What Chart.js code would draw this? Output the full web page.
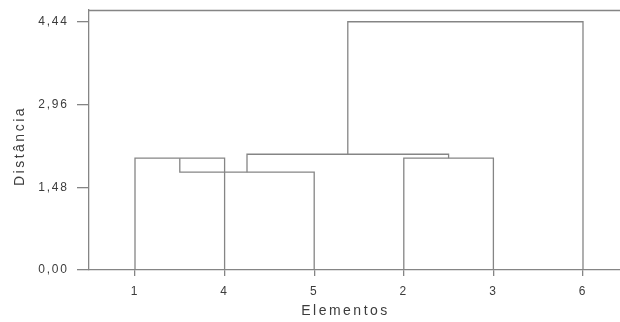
<!DOCTYPE html>
<html><head><meta charset="utf-8">
<script src="https://cdn.jsdelivr.net/npm/chart.js@4/dist/chart.umd.min.js"></script>
<style>html,body{margin:0;padding:0;background:#fff}canvas{display:block}</style>
</head><body>
<canvas id="c" width="620" height="322"></canvas>
<script>
// Leaves in dendrogram display order
const leafLabels = ['1', '4', '5', '2', '3', '6'];
// Merges: cluster ids 0-5 are the leaves (display order), 6+ are clusters formed in merge order
const mergeLeft   = [0, 6, 3, 7, 9];
const mergeRight  = [1, 2, 4, 8, 5];
const mergeHeight = [2.00, 1.75, 2.00, 2.07, 4.44];
const yTicks = [0, 1.48, 2.96, 4.44];
const xTitle = 'Elementos';
const yTitle = 'Distância';

const lineColor = '#858585';
const textColor = '#3c3c3c';
const fontFamily = "'Liberation Sans', Arial, sans-serif";

const pos = leafLabels.map((_, i) => i);
const hgt = leafLabels.map(() => 0);
const datasets = [];
mergeLeft.forEach((l, k) => {
  const r = mergeRight[k], h = mergeHeight[k];
  datasets.push({
    data: [{x: pos[l], y: hgt[l]}, {x: pos[l], y: h}, {x: pos[r], y: h}, {x: pos[r], y: hgt[r]}],
    showLine: true, borderColor: lineColor, borderWidth: 1.3, pointRadius: 0,
    pointHoverRadius: 0, tension: 0, fill: false
  });
  pos.push((pos[l] + pos[r]) / 2);
  hgt.push(h);
});

const TICK_LS = '1.8px', TITLE_LS = '2.5px';
const titleShift = { x: [-9, 0], y: [0, 6] };
const frame = {
  id: 'frame',
  beforeDraw(chart) {
    chart.ctx.letterSpacing = TICK_LS;
    Object.values(chart.scales).forEach(s => {
      if (!s._wrappedTitle) {
        const orig = s.drawTitle;
        const sh = titleShift[s.id] || [0, 0];
        s.drawTitle = function () {
          const ctx = this.ctx;
          ctx.save();
          ctx.translate(sh[0], sh[1]);
          ctx.letterSpacing = TITLE_LS;
          orig.apply(this, arguments);
          ctx.restore();
          ctx.letterSpacing = TICK_LS;
        };
        s._wrappedTitle = true;
      }
    });
  },
  afterDraw(chart) {
    const {ctx, chartArea} = chart;
    ctx.save();
    ctx.strokeStyle = lineColor;
    ctx.lineWidth = 1.3;
    const y = Math.round(chartArea.top) + 0.5;
    ctx.beginPath();
    ctx.moveTo(chartArea.left, y);
    ctx.lineTo(chartArea.right, y);
    ctx.stroke();
    ctx.restore();
  }
};

new Chart(document.getElementById('c'), {
  type: 'scatter',
  data: { datasets },
  plugins: [frame],
  options: {
    responsive: false,
    animation: false,
    devicePixelRatio: 1,
    layout: { padding: { top: 10, right: 0, bottom: 0, left: 0 } },
    plugins: { legend: { display: false }, tooltip: { enabled: false } },
    scales: {
      x: {
        type: 'linear', position: 'bottom',
        min: -0.5134, max: 5.413,
        afterBuildTicks: s => { s.ticks = leafLabels.map((_, i) => ({ value: i })); },
        afterFit: s => { s.height = 52; s.paddingLeft = 0; s.paddingRight = 0; },
        ticks: {
          callback: v => leafLabels[v],
          color: textColor, font: { family: fontFamily, size: 12 },
          padding: 8, maxRotation: 0, autoSkip: false
        },
        grid: { display: true, drawOnChartArea: false, drawTicks: true, tickLength: 6, color: lineColor, lineWidth: 1.3 },
        border: { display: true, color: lineColor, width: 1.3 },
        title: { display: true, text: xTitle, color: textColor, font: { family: fontFamily, size: 14 }, padding: { top: 0, bottom: 2.6 } }
      },
      y: {
        type: 'linear', position: 'left',
        min: 0, max: 4.65,
        afterBuildTicks: s => { s.ticks = yTicks.map(v => ({ value: v })); },
        afterFit: s => { s.width = 89; s.paddingTop = 0; s.paddingBottom = 0; },
        ticks: {
          callback: v => v.toFixed(2).replace('.', ','),
          color: textColor, font: { family: fontFamily, size: 12 },
          padding: 8.2
        },
        grid: { display: true, drawOnChartArea: false, drawTicks: true, tickLength: 12, color: lineColor, lineWidth: 1.3 },
        border: { display: true, color: lineColor, width: 1.3 },
        title: { display: true, text: yTitle, color: textColor, font: { family: fontFamily, size: 14 }, padding: { top: 12, bottom: 0 } }
      }
    }
  }
});
</script>
</body></html>
